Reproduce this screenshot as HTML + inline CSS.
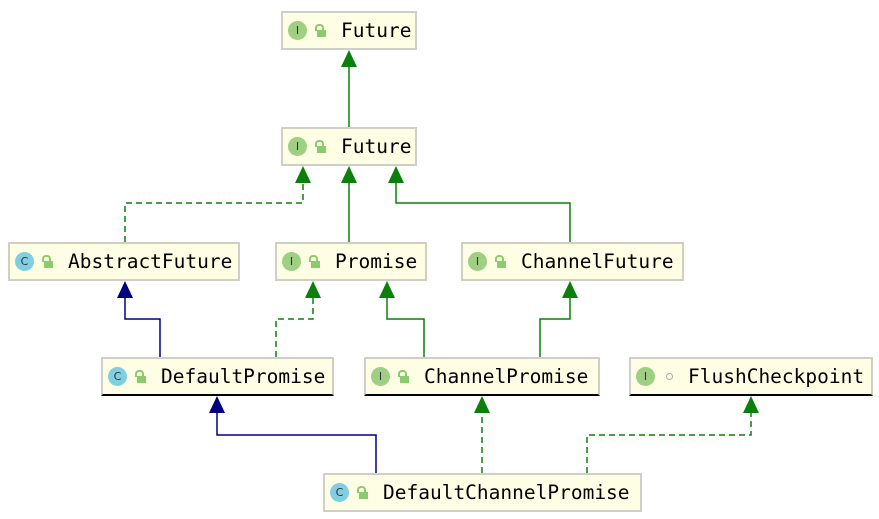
<!DOCTYPE html><html><head><style>
body{margin:0;width:879px;height:519px;background:#fff;position:relative;overflow:hidden;font-family:"DejaVu Sans Mono","Liberation Mono",monospace}
.b{position:absolute;box-sizing:border-box;height:39px;background:#fefee4;border:2px solid #cfcfc4;font-size:19.5px;color:#000;display:flex;align-items:center;white-space:nowrap}
.bb{border-bottom:2px solid #000}
.ic{width:19px;height:19px;border-radius:50%;display:inline-flex;align-items:center;justify-content:center;font-size:11px;margin-left:5px;font-family:"DejaVu Sans",sans-serif;color:#333;flex:none}
.i{background:#9fcf82}.c{background:#7fcfe0}
.lk{display:inline-block;width:9px;height:7px;background:#8cca6e;margin:6px 15px 0 10px;position:relative;flex:none}
.lk:before{content:"";position:absolute;left:-2px;top:-6px;width:5px;height:5px;border:2px solid #8cca6e;border-bottom:none;border-radius:4px 4px 0 0}
svg{position:absolute;left:0;top:0}
</style></head><body>
<svg width="879" height="519">
<g fill="none" stroke-width="1.5">
<path d="M349 127V66" stroke="#0a800a"/>
<path d="M125 242V203H303V182" stroke="#0a800a" stroke-dasharray="6 4"/>
<path d="M349 242V182" stroke="#0a800a"/>
<path d="M570 242V203H396V182" stroke="#0a800a"/>
<path d="M160 357V319H125V297" stroke="#00007f"/>
<path d="M276 357V319H313V297" stroke="#0a800a" stroke-dasharray="6 4"/>
<path d="M424 357V319H387V297" stroke="#0a800a"/>
<path d="M540 357V319H570V297" stroke="#0a800a"/>
<path d="M376 473V435H217V412" stroke="#00007f"/>
<path d="M482 473V412" stroke="#0a800a" stroke-dasharray="6 4"/>
<path d="M587 473V435H751V412" stroke="#0a800a" stroke-dasharray="6 4"/>
</g>
<g fill="#0a800a">
<path d="M349 50l-8 17h16z"/><path d="M303 166l-8 17h16z"/><path d="M349 166l-8 17h16z"/><path d="M396 166l-8 17h16z"/>
<path d="M313 281l-8 17h16z"/><path d="M387 281l-8 17h16z"/><path d="M570 281l-8 17h16z"/>
<path d="M482 396l-8 17h16z"/><path d="M751 396l-8 17h16z"/>
</g>
<g fill="#00007f"><path d="M125 281l-8 17h16z"/><path d="M217 396l-8 17h16z"/></g>
</svg>
<div class="b" style="left:281px;top:11px;width:136px"><span class="ic i">I</span><span class="lk"></span>Future</div>
<div class="b" style="left:281px;top:127px;width:136px"><span class="ic i">I</span><span class="lk"></span>Future</div>
<div class="b" style="left:8px;top:242px;width:232px"><span class="ic c">C</span><span class="lk"></span>AbstractFuture</div>
<div class="b" style="left:275px;top:242px;width:152px"><span class="ic i">I</span><span class="lk"></span>Promise</div>
<div class="b" style="left:461px;top:242px;width:223px"><span class="ic i">I</span><span class="lk"></span>ChannelFuture</div>
<div class="b bb" style="left:101px;top:357px;width:233px"><span class="ic c">C</span><span class="lk"></span>DefaultPromise</div>
<div class="b bb" style="left:364px;top:357px;width:236px"><span class="ic i">I</span><span class="lk"></span>ChannelPromise</div>
<div class="b bb" style="left:629px;top:357px;width:244px"><span class="ic i">I</span><span style="display:inline-block;width:5px;height:5px;border:1.5px solid #aaa;border-radius:50%;margin:0 15px 0 11px;flex:none"></span>FlushCheckpoint</div>
<div class="b" style="left:323px;top:473px;width:319px"><span class="ic c">C</span><span class="lk"></span>DefaultChannelPromise</div>
</body></html>
